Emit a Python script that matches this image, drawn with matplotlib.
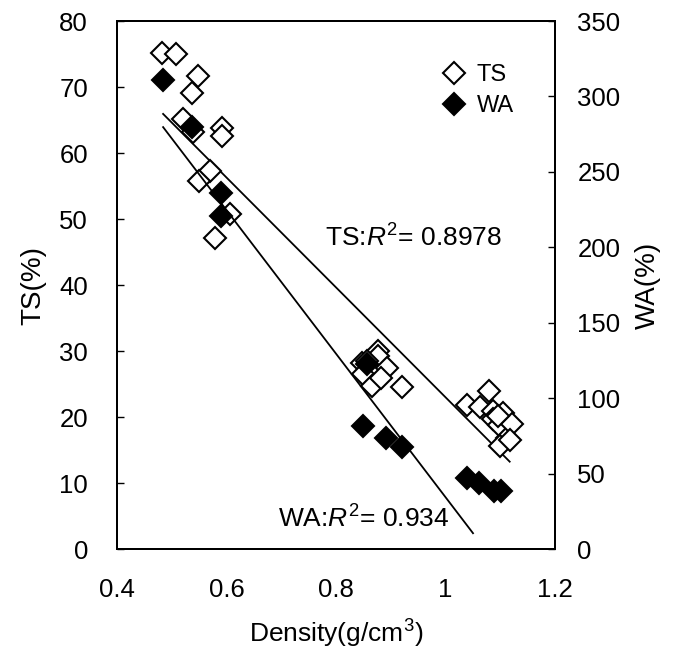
import numpy as np
import matplotlib
matplotlib.use("Agg")
import matplotlib.pyplot as plt

# ---- data ----
ts_density = [0.482, 0.508, 0.548, 0.537, 0.520, 0.539, 0.592, 0.592, 0.570, 0.550, 0.606, 0.579,
              0.847, 0.877, 0.877, 0.866, 0.849, 0.893, 0.866, 0.882, 0.920, 0.857,
              1.039, 1.063, 1.079, 1.087, 1.087, 1.098, 1.105, 1.112, 1.121, 1.100, 1.118, 1.095]
ts_values = [75.2, 75.0, 71.7, 69.1, 65.2, 63.2, 63.8, 62.6, 57.3, 55.7, 50.8, 47.2,
             28.2, 30.1, 29.2, 27.0, 26.6, 27.5, 24.8, 25.9, 24.5, 28.5,
             21.8, 21.5, 23.9, 21.0, 19.8, 18.8, 20.6, 16.9, 18.9, 15.7, 16.5, 20.2]
wa_density = [0.484, 0.537, 0.590, 0.590, 0.857, 0.849, 0.891, 0.920, 1.039, 1.061, 1.088, 1.102]
wa_values = [311, 280, 236, 221, 123, 81.4, 74.0, 67.5, 47.0, 43.7, 38.4, 38.4]

# regression lines as drawn in the figure: (slope, intercept) and x-range
ts_fit = [-83.2, 106.2]
wa_fit = [-475.4, 509.8]
ts_fit_range = [0.484, 1.117]
wa_fit_range = [0.484, 1.050]
ts_r2 = "0.8978"
wa_r2 = "0.934"

x_ticks = [0.4, 0.6, 0.8, 1.0, 1.2]
x_ticklabels = ["0.4", "0.6", "0.8", "1", "1.2"]
ts_ticks = [0, 10, 20, 30, 40, 50, 60, 70, 80]
wa_ticks = [0, 50, 100, 150, 200, 250, 300, 350]

fam = "Liberation Sans"
plt.rcParams["font.family"] = [fam, "DejaVu Sans"]
plt.rcParams["mathtext.fontset"] = "custom"
plt.rcParams["mathtext.it"] = fam + ":italic"
plt.rcParams["mathtext.rm"] = fam

fig = plt.figure(figsize=(6.77, 6.57), dpi=100)
ax = fig.add_axes([0.173, 0.164, 0.647, 0.804])
ax2 = ax.twinx()

ax.set_xlim(0.4, 1.2)
ax.set_ylim(0, 80)
ax2.set_ylim(0, 350)

ax.plot(ts_density, ts_values, linestyle="none", marker="D", markersize=11.5,
        markerfacecolor="white", markeredgecolor="black", markeredgewidth=1.5, label="TS", zorder=3)
ax2.plot(wa_density, wa_values, linestyle="none", marker="D", markersize=11.5,
         markerfacecolor="black", markeredgecolor="black", markeredgewidth=1.5, label="WA", zorder=3)

xs = np.array(ts_fit_range)
ax.plot(xs, np.polyval(ts_fit, xs), color="black", lw=1.3, zorder=2)
xw = np.array(wa_fit_range)
ax2.plot(xw, np.polyval(wa_fit, xw), color="black", lw=1.3, zorder=2)

ax.set_xticks(x_ticks)
ax.set_xticklabels(x_ticklabels)
ax.set_yticks(ts_ticks)
ax2.set_yticks(wa_ticks)

ax.tick_params(axis="x", direction="in", length=0, pad=21, labelsize=18.5)
ax.tick_params(axis="y", direction="in", length=5, width=1.0, pad=21, labelsize=18.5)
ax2.tick_params(axis="y", direction="in", length=5, width=1.0, pad=16, labelsize=18.5)

for a in (ax, ax2):
    for s in a.spines.values():
        s.set_linewidth(1.4)

ax.set_xlabel("Density(g/cm$^3$)", fontsize=19, labelpad=11)
ax.set_ylabel("TS(%)", fontsize=20, labelpad=9)
ax2.set_ylabel("WA(%)", fontsize=20, labelpad=10, rotation=90)

ax.text(0.475, 0.589, "TS:$R^2$= " + ts_r2, transform=ax.transAxes, fontsize=19, ha="left", va="center")
ax.text(0.368, 0.057, "WA:$R^2$= " + wa_r2, transform=ax.transAxes, fontsize=19, ha="left", va="center")

h1, l1 = ax.get_legend_handles_labels()
h2, l2 = ax2.get_legend_handles_labels()
ax2.legend(h1 + h2, l1 + l2, loc="upper left", bbox_to_anchor=(0.742, 0.919), frameon=False,
           fontsize=17, handlelength=1.0, handletextpad=0.47, labelspacing=0.38,
           borderpad=0, borderaxespad=0)

fig.savefig("out.png", dpi=100)
